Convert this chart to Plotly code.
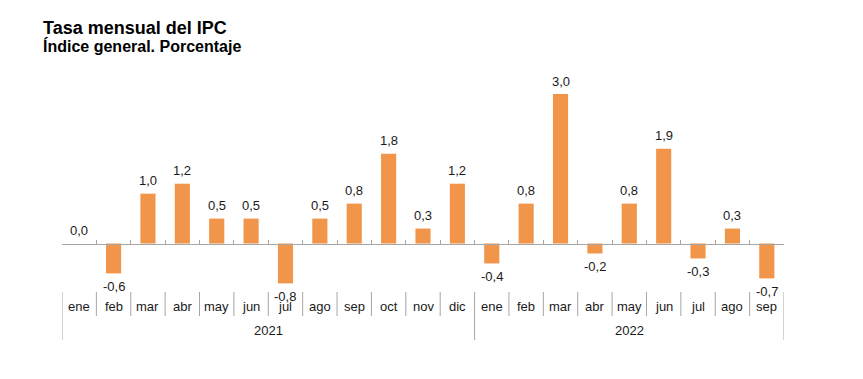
import plotly.graph_objects as go

months = ["ene", "feb", "mar", "abr", "may", "jun", "jul", "ago", "sep", "oct", "nov", "dic",
          "ene", "feb", "mar", "abr", "may", "jun", "jul", "ago", "sep"]
years = ["2021"] * 12 + ["2022"] * 9
values = [0.0, -0.6, 1.0, 1.2, 0.5, 0.5, -0.8, 0.5, 0.8, 1.8, 0.3, 1.2,
          -0.4, 0.8, 3.0, -0.2, 0.8, 1.9, -0.3, 0.3, -0.7]
year_labels = ["2021", "2022"]

title = "Tasa mensual del IPC"
subtitle = "Índice general. Porcentaje"

FONT = "Liberation Sans, Arial, sans-serif"
BAR = "#F0954A"
GRID = "#A6A6A6"
TXT = "#1a1a1a"

cats = [f"{m} {y}" for m, y in zip(months, years)]
texts = [f"{v:.1f}".replace(".", ",") for v in values]

n = len(cats)
ymin, ymax = -0.933, 3.482
H_PLOT = 220  # plot area height in px
W_PLOT = 722

fig = go.Figure()
fig.add_trace(go.Bar(
    x=cats, y=values,
    marker=dict(color=BAR, line=dict(width=0)),
    width=0.44, cliponaxis=False, hoverinfo="skip",
))
# axis at zero with boundary ticks
fig.add_trace(go.Bar(x=cats, y=[None] * n, xaxis="x2", showlegend=False, hoverinfo="skip"))

zero_pos = (0 - ymin) / (ymax - ymin)

annotations = []
# value labels
for c, v, t in zip(cats, values, texts):
    annotations.append(dict(x=c, y=v, xref="x", yref="y", text=t, showarrow=False,
                            yanchor="middle", yshift=13 if v >= 0 else -13,
                            font=dict(family=FONT, size=13, color=TXT)))
for i, m in enumerate(months):
    annotations.append(dict(x=i, y=0, xref="x", yref="paper", text=m, showarrow=False,
                            yshift=-16, yanchor="middle",
                            font=dict(family=FONT, size=13, color=TXT)))
for yl in year_labels:
    idx = [i for i, y in enumerate(years) if y == yl]
    annotations.append(dict(x=(idx[0] + idx[-1]) / 2, y=0, xref="x", yref="paper", text=yl,
                            showarrow=False, yshift=-40, yanchor="middle",
                            font=dict(family=FONT, size=13, color=TXT)))
annotations.append(dict(x=-21 / W_PLOT, y=1, xref="paper", yref="paper", xanchor="left",
                        yanchor="middle", yshift=42, showarrow=False,
                        text=f"<b>{title}</b>",
                        font=dict(family=FONT, size=18, color="#000000")))
annotations.append(dict(x=-21 / W_PLOT, y=1, xref="paper", yref="paper", xanchor="left",
                        yanchor="middle", yshift=24, showarrow=False,
                        text=f"<b>{subtitle}</b>",
                        font=dict(family=FONT, size=16, color="#000000")))

shapes = []
for b in range(n + 1):
    pos = b - 0.5
    long = b == 0 or b == n or (0 < b < n and years[b] != years[b - 1])
    y1 = -(50 / H_PLOT) if long else -(26 / H_PLOT)
    shapes.append(dict(type="line", xref="x", yref="paper", x0=pos, x1=pos,
                       y0=-(2 / H_PLOT), y1=y1, line=dict(color=GRID, width=1)))

fig.update_layout(
    width=855, height=371,
    margin=dict(l=54, r=79, t=62, b=89),
    plot_bgcolor="white", paper_bgcolor="white",
    showlegend=False, bargap=0.56,
    xaxis=dict(type="category", range=[-0.5, n - 0.5], showticklabels=False,
               showline=False, showgrid=False, zeroline=False, ticks=""),
    xaxis2=dict(type="category", overlaying="x", matches="x", anchor="free",
                position=zero_pos, side="bottom", showticklabels=False,
                showline=True, linecolor=GRID, linewidth=1,
                ticks="inside", tickson="boundaries", ticklen=4, tickcolor=GRID,
                showgrid=False, zeroline=False),
    yaxis=dict(range=[ymin, ymax], visible=False, showgrid=False, zeroline=False),
    annotations=annotations, shapes=shapes,
    font=dict(family=FONT),
)

fig.write_html("out.html")
